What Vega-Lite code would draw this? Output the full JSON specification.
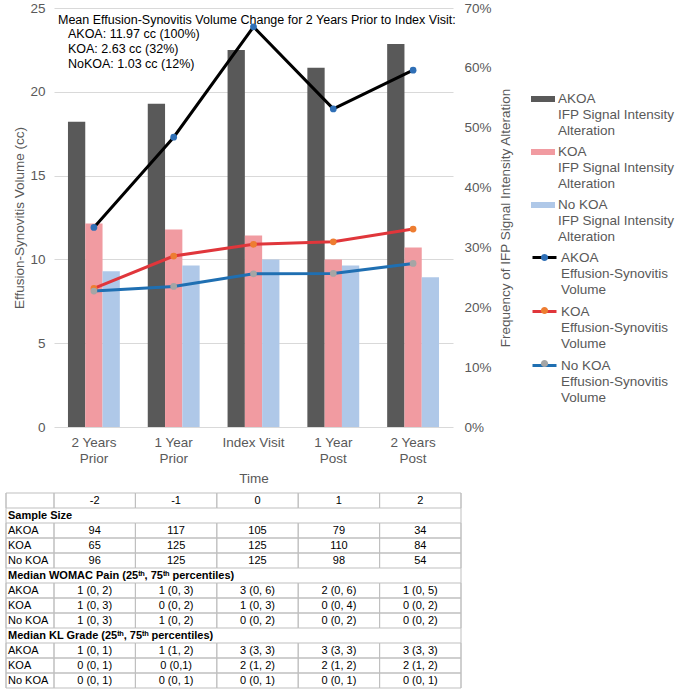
{
  "$schema": "https://vega.github.io/schema/vega-lite/v6.json",
  "padding": {"left": 5, "top": 1, "right": 0, "bottom": 0},
  "config": {
    "font": "Liberation Sans",
    "view": {"stroke": null},
    "axis": {"labelColor": "#595959", "titleColor": "#595959", "labelFontSize": 13.5, "titleFontSize": 13.5, "titleFontWeight": "normal", "ticks": false, "domain": false, "gridColor": "#d9d9d9"}
  },
  "datasets": {
    "bars": [
      {"time": "2 Years Prior", "group": "AKOA", "pct": 0.51},
      {"time": "2 Years Prior", "group": "KOA", "pct": 0.34},
      {"time": "2 Years Prior", "group": "No KOA", "pct": 0.26},
      {"time": "1 Year Prior", "group": "AKOA", "pct": 0.54},
      {"time": "1 Year Prior", "group": "KOA", "pct": 0.33},
      {"time": "1 Year Prior", "group": "No KOA", "pct": 0.27},
      {"time": "Index Visit", "group": "AKOA", "pct": 0.63},
      {"time": "Index Visit", "group": "KOA", "pct": 0.32},
      {"time": "Index Visit", "group": "No KOA", "pct": 0.28},
      {"time": "1 Year Post", "group": "AKOA", "pct": 0.60},
      {"time": "1 Year Post", "group": "KOA", "pct": 0.28},
      {"time": "1 Year Post", "group": "No KOA", "pct": 0.27},
      {"time": "2 Years Post", "group": "AKOA", "pct": 0.64},
      {"time": "2 Years Post", "group": "KOA", "pct": 0.30},
      {"time": "2 Years Post", "group": "No KOA", "pct": 0.25}
    ],
    "lines": [
      {"time": "2 Years Prior", "group": "AKOA", "cc": 11.91},
      {"time": "1 Year Prior", "group": "AKOA", "cc": 17.29},
      {"time": "Index Visit", "group": "AKOA", "cc": 23.88},
      {"time": "1 Year Post", "group": "AKOA", "cc": 18.98},
      {"time": "2 Years Post", "group": "AKOA", "cc": 21.29},
      {"time": "2 Years Prior", "group": "KOA", "cc": 8.27},
      {"time": "1 Year Prior", "group": "KOA", "cc": 10.20},
      {"time": "Index Visit", "group": "KOA", "cc": 10.90},
      {"time": "1 Year Post", "group": "KOA", "cc": 11.05},
      {"time": "2 Years Post", "group": "KOA", "cc": 11.81},
      {"time": "2 Years Prior", "group": "No KOA", "cc": 8.11},
      {"time": "1 Year Prior", "group": "No KOA", "cc": 8.39},
      {"time": "Index Visit", "group": "No KOA", "cc": 9.14},
      {"time": "1 Year Post", "group": "No KOA", "cc": 9.16},
      {"time": "2 Years Post", "group": "No KOA", "cc": 9.76}
    ],
    "note": [
      {"part": "heading", "note": "Mean Effusion-Synovitis Volume Change for 2 Years Prior to Index Visit:"},
      {"part": "values", "note": "AKOA: 11.97 cc (100%)\nKOA: 2.63 cc (32%)\nNoKOA: 1.03 cc (12%)"}
    ],
    "tableLabels": [
      {"row": 1, "col": "label", "kind": "cell", "text": ""},
      {"row": 2, "col": "label", "kind": "section", "text": "Sample Size"},
      {"row": 3, "col": "label", "kind": "cell", "text": "AKOA"},
      {"row": 4, "col": "label", "kind": "cell", "text": "KOA"},
      {"row": 5, "col": "label", "kind": "cell", "text": "No KOA"},
      {"row": 6, "col": "label", "kind": "section", "text": "Median WOMAC Pain (25ᵗʰ, 75ᵗʰ percentiles)"},
      {"row": 7, "col": "label", "kind": "cell", "text": "AKOA"},
      {"row": 8, "col": "label", "kind": "cell", "text": "KOA"},
      {"row": 9, "col": "label", "kind": "cell", "text": "No KOA"},
      {"row": 10, "col": "label", "kind": "section", "text": "Median KL Grade (25ᵗʰ, 75ᵗʰ percentiles)"},
      {"row": 11, "col": "label", "kind": "cell", "text": "AKOA"},
      {"row": 12, "col": "label", "kind": "cell", "text": "KOA"},
      {"row": 13, "col": "label", "kind": "cell", "text": "No KOA"}
    ],
    "tableCells": [
      {"row": 1, "col": "-2", "text": "-2"}, {"row": 1, "col": "-1", "text": "-1"}, {"row": 1, "col": "0", "text": "0"}, {"row": 1, "col": "1", "text": "1"}, {"row": 1, "col": "2", "text": "2"},
      {"row": 3, "col": "-2", "text": "94"}, {"row": 3, "col": "-1", "text": "117"}, {"row": 3, "col": "0", "text": "105"}, {"row": 3, "col": "1", "text": "79"}, {"row": 3, "col": "2", "text": "34"},
      {"row": 4, "col": "-2", "text": "65"}, {"row": 4, "col": "-1", "text": "125"}, {"row": 4, "col": "0", "text": "125"}, {"row": 4, "col": "1", "text": "110"}, {"row": 4, "col": "2", "text": "84"},
      {"row": 5, "col": "-2", "text": "96"}, {"row": 5, "col": "-1", "text": "125"}, {"row": 5, "col": "0", "text": "125"}, {"row": 5, "col": "1", "text": "98"}, {"row": 5, "col": "2", "text": "54"},
      {"row": 7, "col": "-2", "text": "1 (0, 2)"}, {"row": 7, "col": "-1", "text": "1 (0, 3)"}, {"row": 7, "col": "0", "text": "3 (0, 6)"}, {"row": 7, "col": "1", "text": "2 (0, 6)"}, {"row": 7, "col": "2", "text": "1 (0, 5)"},
      {"row": 8, "col": "-2", "text": "1 (0, 3)"}, {"row": 8, "col": "-1", "text": "0 (0, 2)"}, {"row": 8, "col": "0", "text": "1 (0, 3)"}, {"row": 8, "col": "1", "text": "0 (0, 4)"}, {"row": 8, "col": "2", "text": "0 (0, 2)"},
      {"row": 9, "col": "-2", "text": "1 (0, 3)"}, {"row": 9, "col": "-1", "text": "1 (0, 2)"}, {"row": 9, "col": "0", "text": "0 (0, 2)"}, {"row": 9, "col": "1", "text": "0 (0, 2)"}, {"row": 9, "col": "2", "text": "0 (0, 2)"},
      {"row": 11, "col": "-2", "text": "1 (0, 1)"}, {"row": 11, "col": "-1", "text": "1 (1, 2)"}, {"row": 11, "col": "0", "text": "3 (3, 3)"}, {"row": 11, "col": "1", "text": "3 (3, 3)"}, {"row": 11, "col": "2", "text": "3 (3, 3)"},
      {"row": 12, "col": "-2", "text": "0 (0, 1)"}, {"row": 12, "col": "-1", "text": "0 (0,1)"}, {"row": 12, "col": "0", "text": "2 (1, 2)"}, {"row": 12, "col": "1", "text": "2 (1, 2)"}, {"row": 12, "col": "2", "text": "2 (1, 2)"},
      {"row": 13, "col": "-2", "text": "0 (0, 1)"}, {"row": 13, "col": "-1", "text": "0 (0, 1)"}, {"row": 13, "col": "0", "text": "0 (0, 1)"}, {"row": 13, "col": "1", "text": "0 (0, 1)"}, {"row": 13, "col": "2", "text": "0 (0, 1)"}
    ]
  },
  "columns": 1,
  "align": "none",
  "spacing": 7,
  "concat": [
    {
      "width": 399,
      "height": 419,
      "layer": [
        {
          "data": {"name": "bars"},
          "mark": {"type": "bar"},
          "encoding": {
            "x": {"field": "time", "type": "nominal", "title": "Time",
              "scale": {"domain": ["2 Years Prior", "1 Year Prior", "Index Visit", "1 Year Post", "2 Years Post"], "paddingInner": 0.35, "paddingOuter": 0.175},
              "axis": {"labelAngle": 0, "labelPadding": 8, "titlePadding": 6, "labelLineHeight": 16.5, "labelExpr": "datum.label == 'Index Visit' ? datum.label : [slice(datum.label, 0, lastindexof(datum.label, ' ')), slice(datum.label, lastindexof(datum.label, ' ') + 1)]"}},
            "xOffset": {"field": "group", "type": "nominal", "scale": {"domain": ["AKOA", "KOA", "No KOA"], "paddingInner": 0, "paddingOuter": 0}},
            "y": {"field": "pct", "type": "quantitative", "title": "Frequency of IFP Signal Intensity Alteration",
              "scale": {"domain": [0, 0.7], "nice": false},
              "axis": {"orient": "right", "values": [0, 0.1, 0.2, 0.3, 0.4, 0.5, 0.6, 0.7], "format": ".0%", "grid": false, "labelPadding": 11, "titlePadding": 21, "titleAngle": 270}},
            "color": {"field": "group", "type": "nominal",
              "scale": {"range": ["#595959", "#f19ba1", "#afc8e8"]},
              "legend": {"orient": "none", "legendX": 477, "legendY": 79, "title": null, "padding": 0,
                "symbolType": "M-1,-0.25H1V0.25H-1Z", "symbolSize": 576, "symbolStrokeWidth": 0,
                "labelExpr": "[datum.label, 'IFP Signal Intensity', 'Alteration']",
                "labelBaseline": "top", "labelFontSize": 13.5, "labelColor": "#595959", "labelOffset": 3, "rowPadding": 2,
                "encode": {"labels": {"update": {"dy": {"value": -7}, "lineHeight": {"value": 16}}}}}}
          }
        },
        {
          "data": {"name": "lines"},
          "layer": [
            {
              "mark": {"type": "line", "strokeWidth": 3},
              "encoding": {
                "x": {"field": "time", "type": "nominal", "title": "Time", "scale": {"domain": ["2 Years Prior", "1 Year Prior", "Index Visit", "1 Year Post", "2 Years Post"]}},
                "y": {"field": "cc", "type": "quantitative", "title": "Effusion-Synovitis Volume (cc)",
                  "scale": {"domain": [0, 25], "nice": false},
                  "axis": {"orient": "left", "values": [0, 5, 10, 15, 20, 25], "grid": true, "labelPadding": 9, "titlePadding": 3}},
                "order": {"value": null},
                "stroke": {"field": "group", "type": "nominal",
                  "scale": {"range": ["#000000", "#e0363b", "#1f6fb2"]},
                  "legend": {"orient": "none", "legendX": 477, "legendY": 236, "title": null, "padding": 0,
                    "symbolType": "M-1,0H1", "symbolSize": 576, "symbolStrokeWidth": 3,
                    "labelExpr": "[datum.label, 'Effusion-Synovitis', 'Volume']",
                    "labelBaseline": "top", "labelFontSize": 13.5, "labelColor": "#595959", "labelOffset": 3, "rowPadding": 2,
                    "encode": {"labels": {"update": {"dy": {"value": -7}, "lineHeight": {"value": 16}}}}}}
              }
            },
            {
              "mark": {"type": "point", "filled": true, "size": 45, "opacity": 1},
              "encoding": {
                "x": {"field": "time", "type": "nominal", "title": "Time", "scale": {"domain": ["2 Years Prior", "1 Year Prior", "Index Visit", "1 Year Post", "2 Years Post"]}},
                "y": {"field": "cc", "type": "quantitative", "title": "Effusion-Synovitis Volume (cc)", "scale": {"domain": [0, 25], "nice": false}},
                "fill": {"field": "group", "type": "nominal",
                  "scale": {"domain": ["AKOA", "KOA", "No KOA"], "range": ["#2f6fb6", "#ed7d31", "#a5a5a5"]},
                  "legend": {"orient": "none", "legendX": 477, "legendY": 236, "title": null, "padding": 0,
                    "symbolType": "M-0.3,0A0.3,0.3 0 1,1 0.3,0A0.3,0.3 0 1,1 -0.3,0Z", "symbolSize": 576, "symbolStrokeWidth": 3, "symbolStrokeColor": "transparent",
                    "labelExpr": "[datum.label, 'Effusion-Synovitis', 'Volume']",
                    "labelBaseline": "top", "labelFontSize": 11.8, "labelColor": "transparent", "labelOffset": 3, "rowPadding": 0,
                    "encode": {"labels": {"update": {"dy": {"value": -7}, "lineHeight": {"value": 16}}}}}}
              }
            },
            {
              "data": {"name": "note"},
              "transform": [{"filter": "datum.part == 'heading'"}],
              "mark": {"type": "text", "align": "left", "baseline": "top", "fontSize": 12.5, "dx": -10, "fill": "#000000"},
              "encoding": {
                "x": {"datum": "2 Years Prior", "type": "nominal", "bandPosition": 0, "title": "Time"},
                "y": {"datum": 24.66, "type": "quantitative", "title": "Effusion-Synovitis Volume (cc)", "scale": {"domain": [0, 25], "nice": false}},
                "text": {"field": "note", "type": "nominal"}
              }
            },
            {
              "data": {"name": "note"},
              "transform": [{"filter": "datum.part == 'values'"}],
              "mark": {"type": "text", "align": "left", "baseline": "top", "fontSize": 12.5, "lineHeight": 14.7, "lineBreak": "\n", "fill": "#000000"},
              "encoding": {
                "x": {"datum": "2 Years Prior", "type": "nominal", "bandPosition": 0, "title": "Time"},
                "y": {"datum": 23.78, "type": "quantitative", "title": "Effusion-Synovitis Volume (cc)", "scale": {"domain": [0, 25], "nice": false}},
                "text": {"field": "note", "type": "nominal"}
              }
            }
          ]
        }
      ],
      "resolve": {"scale": {"y": "independent"}}
    },
    {
      "width": 407,
      "height": 195,
      "layer": [
        {
          "data": {"name": "tableLabels"},
          "layer": [
            {
              "transform": [{"filter": "datum.kind != 'section'"}],
              "mark": {"type": "rect", "fill": "transparent", "stroke": "#bfbfbf", "strokeWidth": 1},
              "encoding": {
                "x": {"field": "col", "type": "nominal", "axis": null, "scale": {"domain": ["label"], "range": [-48, 0], "paddingInner": 0, "paddingOuter": 0}},
                "y": {"field": "row", "type": "ordinal", "axis": null, "scale": {"domain": [1, 2, 3, 4, 5, 6, 7, 8, 9, 10, 11, 12, 13], "paddingInner": 0, "paddingOuter": 0}}
              }
            },
            {
              "transform": [{"filter": "datum.row == 1"}],
              "mark": {"type": "rule", "color": "#bfbfbf", "strokeWidth": 1},
              "encoding": {
                "x": {"field": "col", "type": "nominal", "axis": null, "bandPosition": 0}
              }
            },
            {
              "transform": [{"filter": "datum.kind != 'section'"}],
              "mark": {"type": "text", "align": "left", "baseline": "middle", "dx": 2, "fontSize": 11, "fill": "#000000"},
              "encoding": {
                "x": {"field": "col", "type": "nominal", "axis": null, "bandPosition": 0},
                "y": {"field": "row", "type": "ordinal", "axis": null},
                "text": {"field": "text", "type": "nominal"}
              }
            },
            {
              "transform": [{"filter": "datum.kind == 'section'"}],
              "mark": {"type": "text", "align": "left", "baseline": "middle", "dx": 2, "fontSize": 11, "fontWeight": "bold", "fill": "#000000"},
              "encoding": {
                "x": {"field": "col", "type": "nominal", "axis": null, "bandPosition": 0},
                "y": {"field": "row", "type": "ordinal", "axis": null},
                "text": {"field": "text", "type": "nominal"}
              }
            }
          ]
        },
        {
          "data": {"name": "tableCells"},
          "layer": [
            {
              "mark": {"type": "rect", "fill": "transparent", "stroke": "#bfbfbf", "strokeWidth": 1},
              "encoding": {
                "x": {"field": "col", "type": "nominal", "axis": null, "scale": {"domain": ["-2", "-1", "0", "1", "2"], "paddingInner": 0, "paddingOuter": 0}},
                "y": {"field": "row", "type": "ordinal", "axis": null}
              }
            },
            {
              "transform": [{"filter": "datum.row == 1 && datum.col == '2'"}],
              "mark": {"type": "rule", "color": "#bfbfbf", "strokeWidth": 1},
              "encoding": {
                "x": {"field": "col", "type": "nominal", "axis": null, "bandPosition": 1}
              }
            },
            {
              "mark": {"type": "text", "align": "center", "baseline": "middle", "fontSize": 11, "fill": "#000000"},
              "encoding": {
                "x": {"field": "col", "type": "nominal", "axis": null},
                "y": {"field": "row", "type": "ordinal", "axis": null},
                "text": {"field": "text", "type": "nominal"}
              }
            }
          ]
        }
      ],
      "resolve": {"scale": {"x": "independent"}}
    }
  ]
}
